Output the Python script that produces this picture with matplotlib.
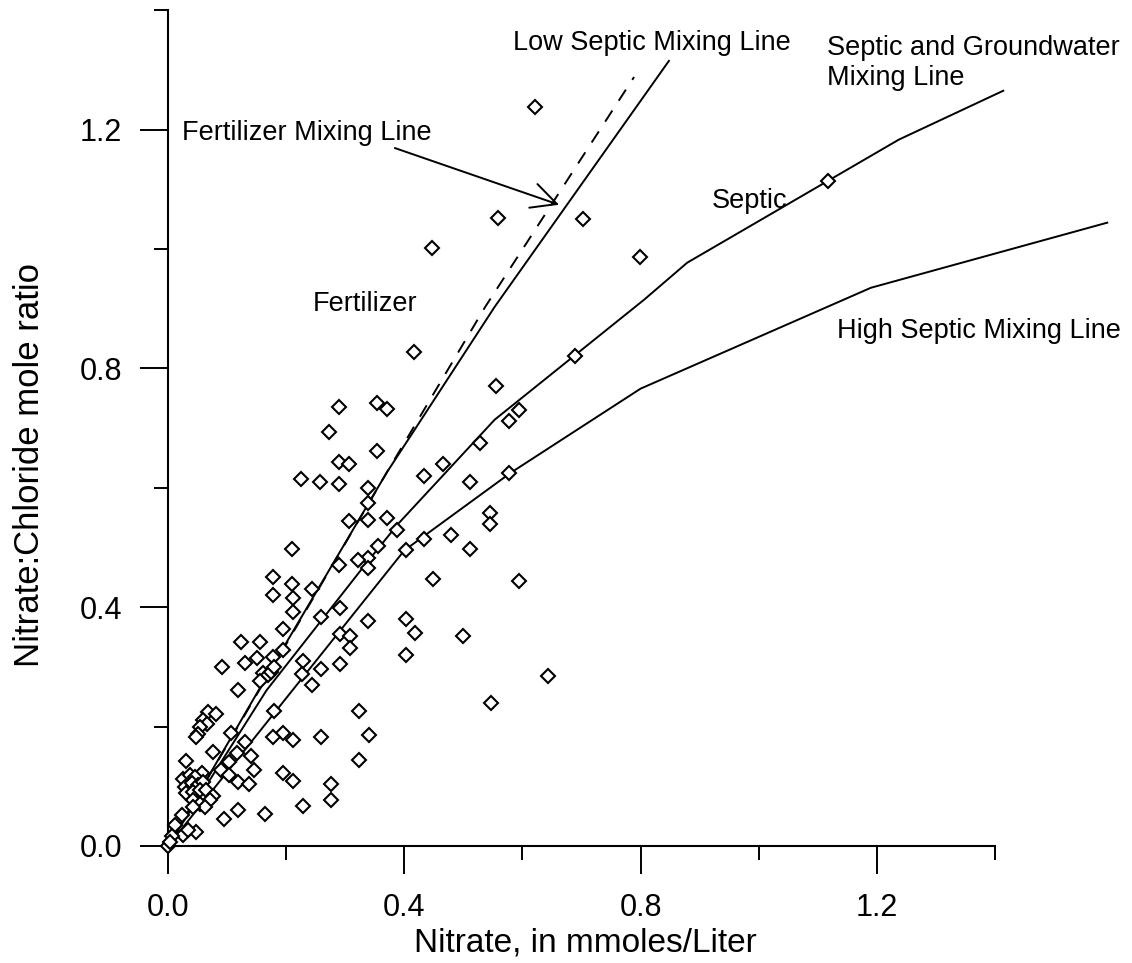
import matplotlib
matplotlib.use("Agg")
import matplotlib.pyplot as plt
from matplotlib.ticker import MultipleLocator

plt.rcParams['font.family'] = ['Liberation Sans', 'DejaVu Sans']

# well samples: nitrate (mmoles/L) vs nitrate:chloride mole ratio
nitrate = [
    0.622, 0.558, 0.447, 0.702, 0.799, 1.118,
    0.417, 0.290, 0.354, 0.370, 0.273, 0.354, 0.290, 0.306, 0.225, 0.257,
    0.290, 0.338, 0.338, 0.306, 0.338, 0.370, 0.556, 0.528, 0.465, 0.434,
    0.512, 0.387, 0.355, 0.338, 0.322, 0.338, 0.290, 0.403, 0.434, 0.479,
    0.512, 0.545, 0.545, 0.449, 0.210, 0.177, 0.210, 0.243, 0.177, 0.211,
    0.689, 0.594, 0.577, 0.577, 0.594, 0.403, 0.418, 0.499, 0.403, 0.643,
    0.547,
    0.211, 0.291, 0.338, 0.259, 0.194, 0.124, 0.155, 0.150, 0.130, 0.092,
    0.194, 0.178, 0.291, 0.308, 0.308, 0.291, 0.228, 0.227, 0.259, 0.243,
    0.160, 0.169, 0.175, 0.180, 0.155, 0.118, 0.323, 0.340, 0.324, 0.259,
    0.195, 0.178, 0.212, 0.180, 0.107, 0.131, 0.212, 0.276, 0.276, 0.228,
    0.164, 0.118, 0.094,
    0.068, 0.082, 0.060, 0.066, 0.054, 0.051, 0.047, 0.076, 0.031, 0.104,
    0.117, 0.141, 0.146, 0.090, 0.104, 0.195, 0.118, 0.137, 0.057,
    0.026, 0.037, 0.045, 0.029, 0.040, 0.051, 0.060, 0.031, 0.043, 0.054,
    0.065, 0.076, 0.071, 0.043, 0.054, 0.062, 0.023, 0.043, 0.012, 0.048,
    0.026, 0.034, 0.006, 0.000, 0.004,
]
ratio = [
    1.238, 1.052, 1.001, 1.050, 0.987, 1.113,
    0.828, 0.736, 0.742, 0.732, 0.694, 0.662, 0.643, 0.639, 0.615, 0.609,
    0.606, 0.600, 0.574, 0.544, 0.546, 0.549, 0.770, 0.675, 0.639, 0.619,
    0.610, 0.529, 0.503, 0.482, 0.479, 0.465, 0.470, 0.496, 0.515, 0.521,
    0.497, 0.557, 0.540, 0.447, 0.497, 0.451, 0.439, 0.431, 0.420, 0.416,
    0.821, 0.731, 0.711, 0.625, 0.443, 0.380, 0.356, 0.351, 0.320, 0.285,
    0.240,
    0.392, 0.398, 0.377, 0.383, 0.363, 0.341, 0.341, 0.315, 0.307, 0.299,
    0.328, 0.316, 0.355, 0.352, 0.331, 0.305, 0.310, 0.288, 0.296, 0.270,
    0.289, 0.286, 0.292, 0.300, 0.277, 0.262, 0.226, 0.186, 0.144, 0.183,
    0.190, 0.182, 0.178, 0.226, 0.190, 0.174, 0.109, 0.103, 0.077, 0.067,
    0.053, 0.061, 0.046,
    0.225, 0.221, 0.211, 0.205, 0.200, 0.188, 0.182, 0.158, 0.142, 0.141,
    0.156, 0.150, 0.127, 0.127, 0.119, 0.122, 0.107, 0.103, 0.122,
    0.113, 0.119, 0.116, 0.099, 0.105, 0.102, 0.107, 0.088, 0.091, 0.094,
    0.094, 0.083, 0.077, 0.077, 0.071, 0.066, 0.052, 0.066, 0.035, 0.024,
    0.018, 0.027, 0.016, 0.000, 0.006,
]

# mixing lines
fert_x = [0, 0.37, 0.537, 0.789]
fert_y = [0, 0.625, 0.903, 1.288]
low_x = [0, 0.2, 0.37, 0.553, 0.848]
low_y = [0, 0.34, 0.625, 0.903, 1.315]
mid_x = [0, 0.167, 0.34, 0.39, 0.553, 0.806, 0.879, 1.237, 1.414]
mid_y = [0, 0.261, 0.479, 0.54, 0.714, 0.915, 0.977, 1.183, 1.265]
high_x = [0, 0.4, 0.58, 0.8, 1.19, 1.59]
high_y = [0, 0.495, 0.625, 0.766, 0.935, 1.044]

fig = plt.figure(figsize=(11.32, 9.63), dpi=100)
ax = fig.add_axes([0.1484, 0.1215, 0.7306, 0.868])

lw = 1.4
ax.plot(fert_x, fert_y, color='black', lw=lw, dashes=(6.8, 6), clip_on=False)
ax.plot(low_x, low_y, color='black', lw=lw, clip_on=False)
ax.plot(mid_x, mid_y, color='black', lw=lw, clip_on=False)
ax.plot(high_x, high_y, color='black', lw=lw, clip_on=False)
ax.plot(nitrate, ratio, linestyle='none', marker='D', ms=7, mfc='white',
        mec='black', mew=1.5, clip_on=False, zorder=3)

ax.set_xlim(0, 1.4)
ax.set_ylim(0, 1.4)
for s in ['top', 'right']:
    ax.spines[s].set_visible(False)
for s in ['left', 'bottom']:
    ax.spines[s].set_linewidth(1.5)

ax.xaxis.set_major_locator(MultipleLocator(0.4))
ax.xaxis.set_minor_locator(MultipleLocator(0.2))
ax.yaxis.set_major_locator(MultipleLocator(0.4))
ax.yaxis.set_minor_locator(MultipleLocator(0.2))
ax.xaxis.set_major_formatter(lambda v, p: f"{v:.1f}")
ax.yaxis.set_major_formatter(lambda v, p: f"{v:.1f}")
ax.tick_params(which='major', direction='out', length=20, width=1.4, labelsize=22)
ax.tick_params(which='minor', direction='out', length=10, width=1.4)
ax.tick_params(axis='x', which='major', pad=14)
ax.tick_params(axis='y', which='major', pad=13)

fig.text(585 / 1132, 1 - 943 / 963, 'Nitrate, in mmoles/Liter', fontsize=24,
         ha='center', va='center')
fig.text(30 / 1132, 1 - 465 / 963, 'Nitrate:Chloride mole ratio', fontsize=25,
         ha='center', va='center', rotation=90)

fs = 19.5
ax.text(0.584, 1.333, 'Low Septic Mixing Line', fontsize=fs, va='baseline')
ax.text(1.115, 1.325, 'Septic and Groundwater', fontsize=fs, va='baseline')
ax.text(1.115, 1.275, 'Mixing Line', fontsize=fs, va='baseline')
ax.text(0.0237, 1.183, 'Fertilizer Mixing Line', fontsize=fs, va='baseline')
ax.text(0.245, 0.896, 'Fertilizer', fontsize=fs, va='baseline')
ax.text(0.920, 1.069, 'Septic', fontsize=fs, va='baseline')
ax.text(1.133, 0.851, 'High Septic Mixing Line', fontsize=fs, va='baseline')
ax.annotate('', xy=(0.662, 1.074), xytext=(0.384, 1.169),
            arrowprops=dict(arrowstyle='->,head_length=0.9,head_width=0.45',
                            mutation_scale=20, lw=1.4, color='black',
                            shrinkA=0, shrinkB=0))

fig.savefig('out.png', dpi=100)
